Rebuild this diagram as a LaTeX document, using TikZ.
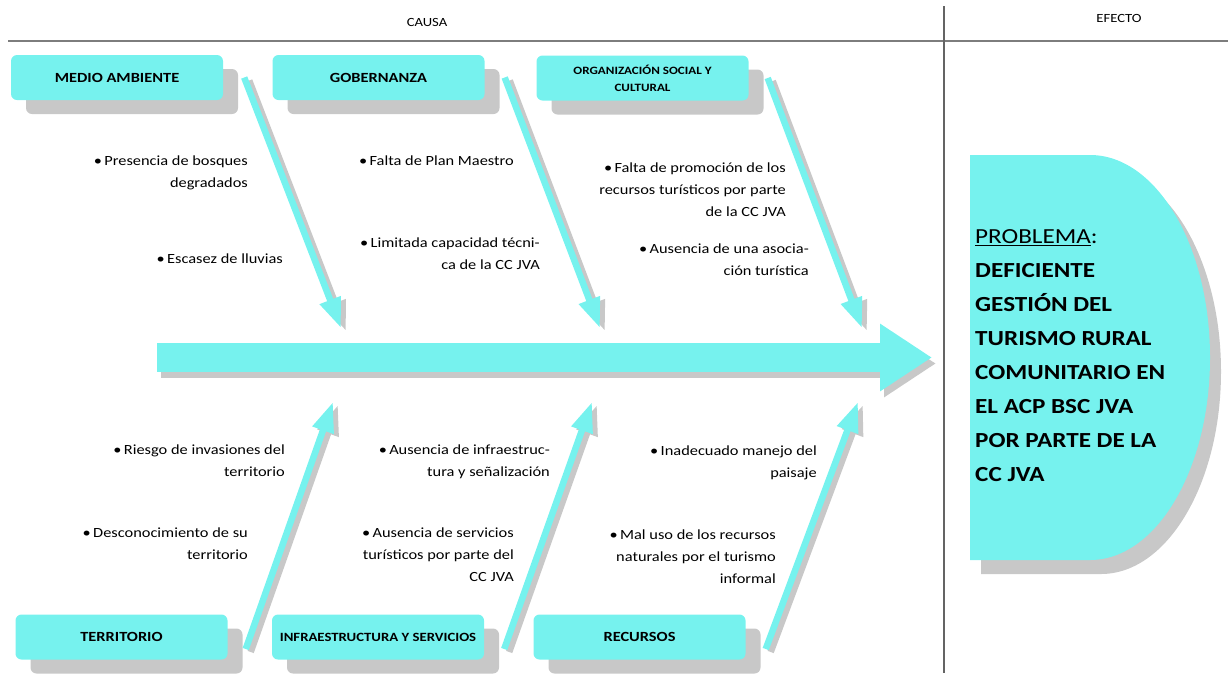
\documentclass[tikz,border=0pt]{standalone}
\usepackage{fontspec}
\setmainfont{Carlito}[FakeStretch=1.17]
\usetikzlibrary{arrows.meta,shadows}
\definecolor{turq}{RGB}{118,242,238}
\definecolor{sombra}{RGB}{200,200,200}
\definecolor{linea}{RGB}{125,125,125}

\begin{document}
\begin{tikzpicture}[x=1pt,y=-1pt,
	caja/.style={rounded corners=6pt, fill=turq, minimum width=212pt, minimum height=45pt, inner sep=2pt, align=center,
		font=\fontsize{14}{16}\selectfont\bfseries,
		drop shadow={shadow xshift=15pt, shadow yshift=-14pt, fill=sombra, opacity=1}},
	texto/.style={anchor=north east, align=right, inner sep=0pt, font=\fontsize{14}{21.8}\selectfont},
	espina/.style={line width=6.5pt, -{Triangle[length=30pt,width=21pt]}}]
		\useasboundingbox (0,0) rectangle (1228,673);
		% cabecera
		\draw[linea, line width=1.6pt] (8,41) -- (1228,41);
		\draw[linea!80!black, line width=1.1pt] (944,6) -- (944,673);
		\node (causa) at (427,22) {\fontsize{12.5}{14}\selectfont CAUSA};
		\node (efecto) at (1119,18) {\fontsize{12.5}{14}\selectfont EFECTO};
		% categorias
		\node[caja] (ma) at (117,77.5) {MEDIO AMBIENTE};
		\node[caja] (gob) at (378.5,77.5) {GOBERNANZA};
		\node[caja, font=\fontsize{11.2}{17}\selectfont\bfseries] (org) at (642.5,78) {ORGANIZACIÓN SOCIAL Y\\CULTURAL};
		\node[caja] (ter) at (121.5,637) {TERRITORIO};
		\node[caja, font=\fontsize{12.6}{15}\selectfont\bfseries] (inf) at (378,637) {INFRAESTRUCTURA Y SERVICIOS};
		\node[caja] (rec) at (639.5,637) {RECURSOS};
		% espina principal
		\coordinate (cola) at (157,357.5);
		\coordinate (punta) at (932,357.5);
		\draw[sombra, line width=29pt, -{Triangle[length=52pt,width=64pt]}] ([shift={(4,6)}]cola) -- ([shift={(4,6)}]punta);
		\draw[turq, line width=29pt, -{Triangle[length=52pt,width=64pt]}] (cola) -- (punta);
		% espinas
		\coordinate (a1) at ([xshift=21pt]ma.east);   \coordinate (b1) at (341,328);
		\coordinate (a2) at ([xshift=20pt]gob.east);  \coordinate (b2) at (600,328);
		\coordinate (a3) at ([xshift=19pt]org.east);  \coordinate (b3) at (862,328);
		\coordinate (a4) at ([shift={(18,12)}]ter.east); \coordinate (b4) at (333,402);
		\coordinate (a5) at ([shift={(20,12)}]inf.east); \coordinate (b5) at (592,402);
		\coordinate (a6) at ([shift={(20,12)}]rec.east); \coordinate (b6) at (858,402);
		\foreach \i in {1,...,6}{
			\draw[espina, sombra] ([shift={(5,3)}]a\i) -- ([shift={(5,3)}]b\i);
			\draw[espina, turq] (a\i) -- (b\i);
		}
		% causas
		\node[texto] (c1) at (248,156) {•\,Presencia de bosques\\degradados};
		\node[texto] (c2) at (283,254) {•\,Escasez de lluvias};
		\node[texto] (c3) at (514,156) {•\,Falta de Plan Maestro};
		\node[texto] (c4) at (540,238) {•\,Limitada capacidad técni-\\ca de la CC JVA};
		\node[texto] (c5) at (786,163) {•\,Falta de promoción de los\\recursos turísticos por parte\\de la CC JVA};
		\node[texto] (c6) at (809,244) {•\,Ausencia de una asocia-\\ción turística};
		\node[texto] (c7) at (285,445) {•\,Riesgo de invasiones del\\territorio};
		\node[texto] (c8) at (248,528) {•\,Desconocimiento de su\\territorio};
		\node[texto] (c9) at (550,445) {•\,Ausencia de infraestruc-\\tura y señalización};
		\node[texto] (c10) at (514,528) {•\,Ausencia de servicios\\turísticos por parte del\\CC JVA};
		\node[texto] (c11) at (817,446) {•\,Inadecuado manejo del\\paisaje};
		\node[texto] (c12) at (776,530) {•\,Mal uso de los recursos\\naturales por el turismo\\informal};
		% efecto
		\fill[sombra] (981,169) -- (1101,169) arc[start angle=-90, end angle=90, x radius=120, y radius=202.5] -- (981,574) -- cycle;
		\fill[turq] (970,155) -- (1090,155) arc[start angle=-90, end angle=90, x radius=120, y radius=202.5] -- (970,560) -- cycle;
		\node[anchor=north west, align=left, inner sep=0pt, font=\fontsize{21.5}{34}\selectfont\bfseries] (prob) at (975,229)
			{{\mdseries\underline{PROBLEMA}:}\\DEFICIENTE\\GESTIÓN DEL\\TURISMO RURAL\\COMUNITARIO EN\\EL ACP BSC JVA\\POR PARTE DE LA\\CC JVA};
	\end{tikzpicture}
\end{document}
